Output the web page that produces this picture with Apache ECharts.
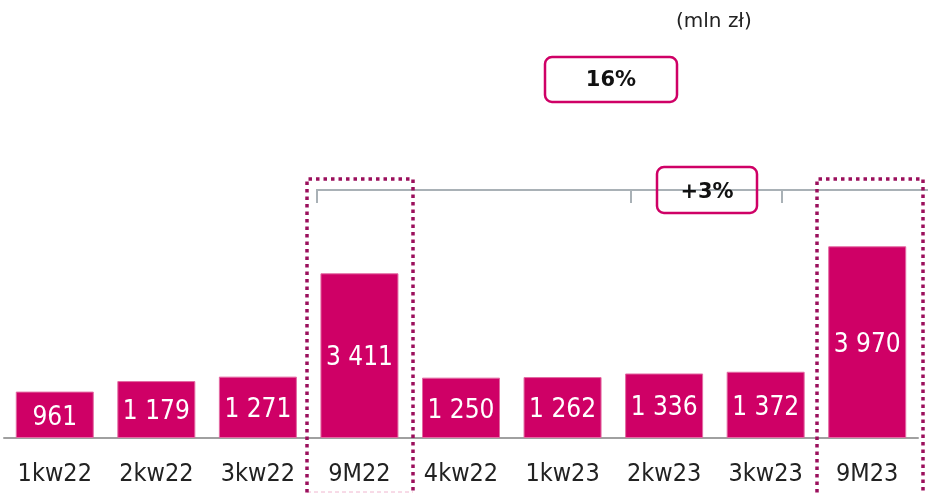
<!DOCTYPE html>
<html>
<head>
<meta charset="utf-8">
<script src="https://cdn.jsdelivr.net/npm/echarts@6/dist/echarts.min.js"></script>
<style>
  html, body { margin: 0; padding: 0; background: #fff; }
  #chart { width: 928px; height: 494px; }
</style>
</head>
<body>
<div id="chart"></div>
<script>
var categories = ['1kw22', '2kw22', '3kw22', '9M22', '4kw22', '1kw23', '2kw23', '3kw23', '9M23']
var values = [961, 1179, 1271, 3411, 1250, 1262, 1336, 1372, 3970]
var unitLabel = '(mln zł)'
var growthTotal = '16%'
var growthQuarter = '+3%'

var pink = '#cf0066'
var maroon = '#9b0f5c'
var grey = '#a9b1b6'
var font = 'DejaVu Sans Condensed'

function fmt (v) {
  return String(v).replace(/\B(?=(\d{3})+(?!\d))/g, ' ')
}

// dotted frame around a summary bar (top + two sides, open below)
function frame (x, w, bottomLine) {
  var items = [{
    type: 'polyline',
    shape: { points: [[x, 500], [x, 179], [x + w, 179], [x + w, 500]] },
    style: { stroke: maroon, fill: null, lineWidth: 3.5, lineDash: [3.5, 4] },
    z: 10
  }]
  if (bottomLine) {
    items.push({
      type: 'line',
      shape: { x1: x, y1: 492, x2: x + w, y2: 492 },
      style: { stroke: '#f0b6cf', lineWidth: 1, lineDash: [4, 3] },
      z: 9
    })
  }
  return items
}

var graphics = [
  {
    type: 'text', x: 676, y: 22,
    style: { text: unitLabel, font: '20px "DejaVu Sans"', fill: '#222', verticalAlign: 'middle' }
  },
  {
    type: 'rect',
    shape: { x: 545, y: 57, width: 132, height: 45, r: 7 },
    style: { stroke: pink, fill: '#fff', lineWidth: 2.5 }
  },
  {
    type: 'text', x: 611, y: 81,
    style: { text: growthTotal, font: 'bold 21px "DejaVu Sans"', fill: '#111', align: 'center', verticalAlign: 'middle' }
  },
  {
    type: 'polyline',
    shape: { points: [[317, 203], [317, 190], [928, 190]] },
    style: { stroke: grey, fill: null, lineWidth: 2 }
  },
  {
    type: 'line', shape: { x1: 631, y1: 190, x2: 631, y2: 203 },
    style: { stroke: grey, lineWidth: 2 }
  },
  {
    type: 'line', shape: { x1: 782, y1: 190, x2: 782, y2: 203 },
    style: { stroke: grey, lineWidth: 2 }
  },
  {
    type: 'rect',
    shape: { x: 657, y: 167, width: 100, height: 46, r: 7 },
    style: { stroke: pink, fill: null, lineWidth: 2.5 }
  },
  {
    type: 'text', x: 707, y: 193,
    style: { text: growthQuarter, font: 'bold 21px "DejaVu Sans"', fill: '#111', align: 'center', verticalAlign: 'middle' }
  }
].concat(frame(307, 106, true)).concat(frame(817, 106, false))

var option = {
  animation: false,
  grid: { left: 4, right: 10, top: 100, bottom: 56 },
  xAxis: {
    type: 'category',
    data: categories,
    axisTick: { show: false },
    axisLine: { lineStyle: { color: '#a0a0a0', width: 2 } },
    axisLabel: { color: '#222', fontSize: 25, fontFamily: font, margin: 24, interval: 0 }
  },
  yAxis: {
    type: 'value',
    min: 0,
    max: 7000,
    show: false,
    splitLine: { show: false }
  },
  series: [{
    type: 'bar',
    data: values,
    barWidth: 78,
    itemStyle: { color: pink, borderColor: '#e36aa3', borderWidth: 1 },
    label: {
      show: true,
      position: 'inside',
      offset: [0, 3],
      color: '#fff',
      fontSize: 26,
      fontFamily: font,
      formatter: function (p) { return fmt(p.value) }
    }
  }],
  graphic: graphics
}

var myChart = echarts.init(document.getElementById('chart'))
myChart.setOption(option)
</script>
</body>
</html>
